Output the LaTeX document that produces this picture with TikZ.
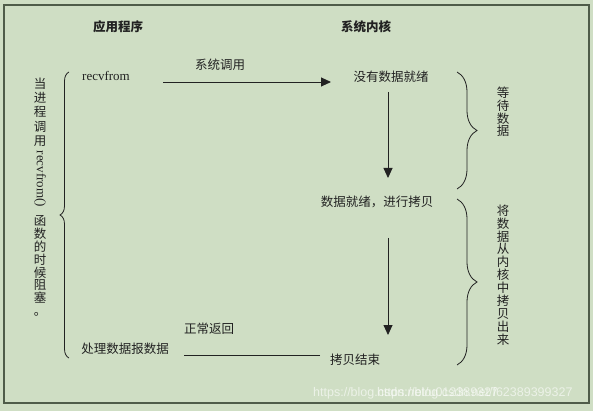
\documentclass[tikz,border=0pt]{standalone}
\usepackage{fontspec}
\setmainfont{Liberation Serif}
\newfontfamily\cjk{Noto Sans CJK SC}
\newfontfamily\wmfont{Liberation Sans}
\usetikzlibrary{arrows.meta,decorations.pathreplacing}
\definecolor{bgc}{HTML}{CFDEC4}
\definecolor{frm}{HTML}{4F5C49}
\definecolor{ink}{HTML}{222222}
\tikzset{
  lbl/.style={inner sep=0pt, text=ink, font=\cjk\fontsize{12.5}{13}\selectfont},
  hdr/.style={inner sep=0pt, text=ink, font=\cjk\bfseries\fontsize{12.5}{13}\selectfont},
  lat/.style={inner sep=0pt, text=ink, font=\fontsize{13}{14}\selectfont},
  vstack/.style={inner sep=0pt, text=ink, align=center},
  arr/.style={draw=ink, line width=0.9pt, -{Triangle[length=10pt,width=9pt]}},
  plain/.style={draw=ink, line width=0.9pt},
  bracel/.style={draw=ink, line width=0.8pt, decorate, decoration={brace, amplitude=9pt}},
  bracer/.style={draw=ink, line width=0.8pt, decorate, decoration={brace, amplitude=20pt}},
  wm/.style={inner sep=0pt, anchor=west, text=white, opacity=0.6, font=\wmfont\fontsize{12.5}{13}\selectfont}
}
\begin{document}
\begin{tikzpicture}[x=1pt,y=-1pt]
\fill[bgc] (0,0) rectangle (593,411);
\useasboundingbox (0,0) rectangle (593,411);
\draw[frm, line width=1.3pt] (4,5) rectangle (589,403);

% headers
\node[hdr] (app) at (118,27) {应用程序};
\node[hdr] (kern) at (366,27) {系统内核};

% application side
\node[lat] (recv) at (106,76) {recvfrom};
\node[lbl] (proc) at (125,349) {处理数据报数据};
\node[lbl] (sysc) at (220,65) {系统调用};
\node[lbl] (ret) at (209,329) {正常返回};

% kernel side
\node[lbl] (nodata) at (391,77) {没有数据就绪};
\node[lbl] (ready) at (377,202) {数据就绪，进行拷贝};
\node[lbl] (done) at (355,360) {拷贝结束};

% connectors
\coordinate (c1s) at (163,82);
\coordinate (c1e) at (331,82);
\draw[arr] (c1s) -- (c1e);
\coordinate (c2s) at (388,92);
\coordinate (c2e) at (388,178);
\draw[arr] (c2s) -- (c2e);
\coordinate (c3s) at (388,238);
\coordinate (c3e) at (388,335);
\draw[arr] (c3s) -- (c3e);
\coordinate (c4s) at (320,355);
\coordinate (c4e) at (184,355);
\draw[plain] (c4s) -- (c4e);

% braces
\coordinate (bl1) at (69,358);
\coordinate (bl2) at (69,72);
\draw[bracel] (bl1) -- (bl2);
\coordinate (br1) at (457,72);
\coordinate (br2) at (457,189);
\draw[bracer] (br1) -- (br2);
\coordinate (br3) at (457,199);
\coordinate (br4) at (457,365);
\draw[bracer] (br3) -- (br4);

% vertical texts
\node[vstack, font=\cjk\fontsize{12.5}{14.3}\selectfont] (vt1) at (40,112) {当\\进\\程\\调\\用};
\node[lat, rotate=-90] (vt2) at (40,179) {recvfrom()};
\node[vstack, font=\cjk\fontsize{12.5}{12.9}\selectfont] (vt3) at (40,266) {函\\数\\的\\时\\候\\阻\\塞\\。};
\node[vstack, font=\cjk\fontsize{12.5}{12.7}\selectfont] (wait) at (503,112) {等\\待\\数\\据};
\node[vstack, font=\cjk\fontsize{12.5}{12.9}\selectfont] (copy) at (503,275) {将\\数\\据\\从\\内\\核\\中\\拷\\贝\\出\\来};

% watermark
\node[wm] (wm1) at (313,393) {https://blog.csdn.net/u012389327};
\node[wm] (wm2) at (377,393) {https://blog.csdn.net/f62389399327};
\end{tikzpicture}
\end{document}
